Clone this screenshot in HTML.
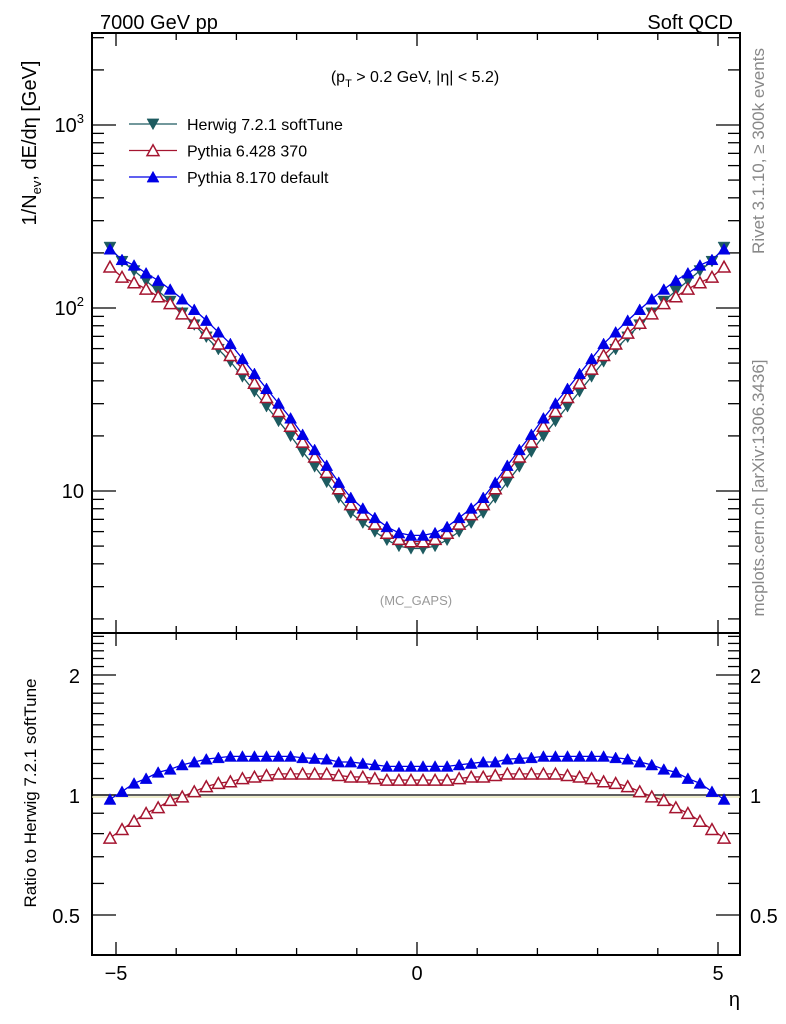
<!DOCTYPE html>
<html><head><meta charset="utf-8"><style>
html,body{margin:0;padding:0;background:#fff;}
svg{display:block;font-family:"Liberation Sans",sans-serif;}
</style></head><body>
<svg id="c" width="786" height="1024" viewBox="0 0 786 1024" xmlns="http://www.w3.org/2000/svg">
<text x="100" y="29" font-size="20">7000 GeV pp</text>
<text x="733" y="29" font-size="20" text-anchor="end">Soft QCD</text>
<text x="415" y="82" font-size="16" text-anchor="middle">(p<tspan font-size="11" dy="5">T</tspan><tspan dy="-5"> &gt; 0.2 GeV, |η| &lt; 5.2)</tspan></text>
<text x="416" y="605" font-size="13" fill="#999" text-anchor="middle">(MC_GAPS)</text>
<text transform="translate(36,143) rotate(-90)" font-size="20" text-anchor="middle">1/N<tspan font-size="13" dy="5">ev</tspan><tspan dy="-5">, dE/dη [GeV]</tspan></text>
<text transform="translate(36,793) rotate(-90)" font-size="17" text-anchor="middle">Ratio to Herwig 7.2.1 softTune</text>
<text x="740" y="1006" font-size="20" text-anchor="end">η</text>
<text transform="translate(764,151) rotate(-90)" font-size="17" fill="#888" text-anchor="middle">Rivet 3.1.10, ≥ 300k events</text>
<text transform="translate(764,488) rotate(-90)" font-size="17" fill="#888" text-anchor="middle">mcplots.cern.ch [arXiv:1306.3436]</text>
<g id="main"></g>
<g id="ratio"></g>
<g id="legend"></g>
</svg>
<script>
const etas = [-5.1,-4.9,-4.7,-4.5,-4.3,-4.1,-3.9,-3.7,-3.5,-3.3,-3.1,-2.9,-2.7,-2.5,-2.3,-2.1,-1.9,-1.7,-1.5,-1.3,-1.1,-0.9,-0.7,-0.5,-0.3,-0.1,0.1,0.3,0.5,0.7,0.9,1.1,1.3,1.5,1.7,1.9,2.1,2.3,2.5,2.7,2.9,3.1,3.3,3.5,3.7,3.9,4.1,4.3,4.5,4.7,4.9,5.1];
const herwig = [215,180,160,141,124,109,94,81,69.5,59.5,51,42.2,35,29,24.1,20,16.4,13.6,11.2,9.2,7.6,6.7,6.0,5.4,5.0,4.85,4.85,5.0,5.4,6.0,6.7,7.6,9.2,11.2,13.6,16.4,20,24.1,29,35,42.2,51,59.5,69.5,81,94,109,124,141,160,180,215];
const ratioP8 = [0.975,1.02,1.07,1.10,1.14,1.16,1.19,1.21,1.23,1.24,1.25,1.25,1.25,1.25,1.25,1.25,1.24,1.235,1.23,1.21,1.21,1.20,1.19,1.18,1.18,1.18,1.18,1.18,1.18,1.19,1.20,1.21,1.21,1.23,1.235,1.24,1.25,1.25,1.25,1.25,1.25,1.25,1.24,1.23,1.21,1.19,1.16,1.14,1.10,1.07,1.02,0.975];
const ratioP6 = [0.78,0.82,0.86,0.90,0.93,0.97,0.99,1.02,1.05,1.07,1.08,1.10,1.11,1.12,1.13,1.13,1.13,1.13,1.13,1.12,1.11,1.11,1.10,1.09,1.09,1.09,1.09,1.09,1.09,1.10,1.11,1.11,1.12,1.13,1.13,1.13,1.13,1.13,1.12,1.11,1.10,1.08,1.07,1.05,1.02,0.99,0.97,0.93,0.90,0.86,0.82,0.78];
const xTicksMajor = [-5,0,5];
const mainYLabels = ["10","10²","10³"];

const NS="http://www.w3.org/2000/svg";
function mk(parent,tag,attrs){const e=document.createElementNS(NS,tag);for(const k in attrs)e.setAttribute(k,attrs[k]);parent.appendChild(e);return e;}
const L=92,R=740,MT=33,MB=633,RT=633,RB=955;
const xs=v=>417+(v)*60.2;
const yMain=v=>491-(Math.log10(v)-1)*183;
const yRat=v=>795-Math.log2(v)*120;
const cH="#1d5b60",c6="#a51530",c8="#0000e6";
const main=document.getElementById('main'),ratio=document.getElementById('ratio'),leg=document.getElementById('legend');

function frame(g,top,bot,name){
  const r=mk(g,'rect',{x:L,y:top,width:R-L,height:bot-top,fill:'none',stroke:'#000','stroke-width':2});
  
  
  for(let v=-5;v<=5;v++){
    const len=xTicksMajor.includes(v)?13:7;
    mk(g,'line',{x1:xs(v),x2:xs(v),y1:bot,y2:bot-len,stroke:'#000','stroke-width':1.3});
    mk(g,'line',{x1:xs(v),x2:xs(v),y1:top,y2:top+len,stroke:'#000','stroke-width':1.3});
  }
}
frame(main,MT,MB,'main-frame');
frame(ratio,RT,RB,'ratio-frame');
for(let d=0;d<=3;d++){for(let m=1;m<=9;m++){const v=m*Math.pow(10,d);const y=yMain(v);if(y<MT||y>MB)continue;const len=m===1?24:12;
  mk(main,'line',{x1:L,x2:L+len,y1:y,y2:y,stroke:'#000','stroke-width':1.3});
  mk(main,'line',{x1:R,x2:R-len,y1:y,y2:y,stroke:'#000','stroke-width':1.3});}}
mainYLabels.forEach((s,i)=>{const v=Math.pow(10,i+1);const t=mk(main,'text',{x:84,y:yMain(v)+7,'font-size':20,'text-anchor':'end'});
  
  
  if(i===0)t.textContent='10';else{t.textContent='10';const ts=mk(t,'tspan',{'font-size':13,dy:-9});ts.textContent=String(i+1);}});
for(let v=0.5;v<=2.55;v+=0.1){const vv=Math.round(v*10)/10;const y=yRat(vv);if(y<RT||y>RB)continue;const len=(vv===0.5||vv===1||vv===2)?24:12;
  mk(ratio,'line',{x1:L,x2:L+len,y1:y,y2:y,stroke:'#000','stroke-width':1.3});
  mk(ratio,'line',{x1:R,x2:R-len,y1:y,y2:y,stroke:'#000','stroke-width':1.3});}
[[2,'2'],[1,'1'],[0.5,'0.5']].forEach(([v,s])=>{
  const t1=mk(ratio,'text',{x:80,y:yRat(v)+8,'font-size':20,'text-anchor':'end'});t1.textContent=s;
  
  
  const t2=mk(ratio,'text',{x:750,y:yRat(v)+8,'font-size':20});t2.textContent=s;
  
  });
xTicksMajor.forEach(v=>{const t=mk(ratio,'text',{x:xs(v),y:980,'font-size':20,'text-anchor':'middle'});t.textContent=v<0?'−'+(-v):String(v);
  
  });
mk(ratio,'line',{x1:L,x2:R,y1:yRat(1),y2:yRat(1),stroke:'#000','stroke-width':1.3});
mk(ratio,'line',{x1:L,x2:R,y1:yRat(1)+2,y2:yRat(1)+2,stroke:'#e8e4b0','stroke-width':1.2});

function marker(g,type,x,y,col,name){
  const s=6;let pts;
  if(type==='down')pts=[[x-s,y-s*0.85],[x+s,y-s*0.85],[x,y+s*0.95]];
  else pts=[[x-s,y+s*0.85],[x+s,y+s*0.85],[x,y-s*0.95]];
  const p=mk(g,'polygon',{points:pts.map(q=>q.join(',')).join(' '),fill:type==='open'?'#fff':col,stroke:col,'stroke-width':type==='open'?1.5:0.5});
  
  
}
function series(g,vals,yf,type,col,name){
  const pl=mk(g,'polyline',{points:vals.map((v,i)=>xs(etas[i])+','+yf(v)).join(' '),fill:'none',stroke:col,'stroke-width':1.3});
  
  
  vals.forEach((v,i)=>marker(g,type,xs(etas[i]),yf(v),col,name+'-point'));
}
const p6=herwig.map((h,i)=>h*ratioP6[i]);
const p8=herwig.map((h,i)=>h*ratioP8[i]);
series(main,herwig,yMain,'down',cH,'herwig');
series(main,p6,yMain,'open',c6,'pythia6');
series(main,p8,yMain,'up',c8,'pythia8');
series(ratio,ratioP6,yRat,'open',c6,'ratio-pythia6');
series(ratio,ratioP8,yRat,'up',c8,'ratio-pythia8');
[['Herwig 7.2.1 softTune','down',cH],['Pythia 6.428 370','open',c6],['Pythia 8.170 default','up',c8]].forEach(([lab,type,col],i)=>{
  const y=124+i*26.5;
  mk(leg,'line',{x1:129,x2:177,y1:y,y2:y,stroke:col,'stroke-width':1.3});
  marker(leg,type,153,y,col,'legend-marker');
  const t=mk(leg,'text',{x:187,y:y+6,'font-size':16});t.textContent=lab;
  
  
});
</script>
</body></html>
